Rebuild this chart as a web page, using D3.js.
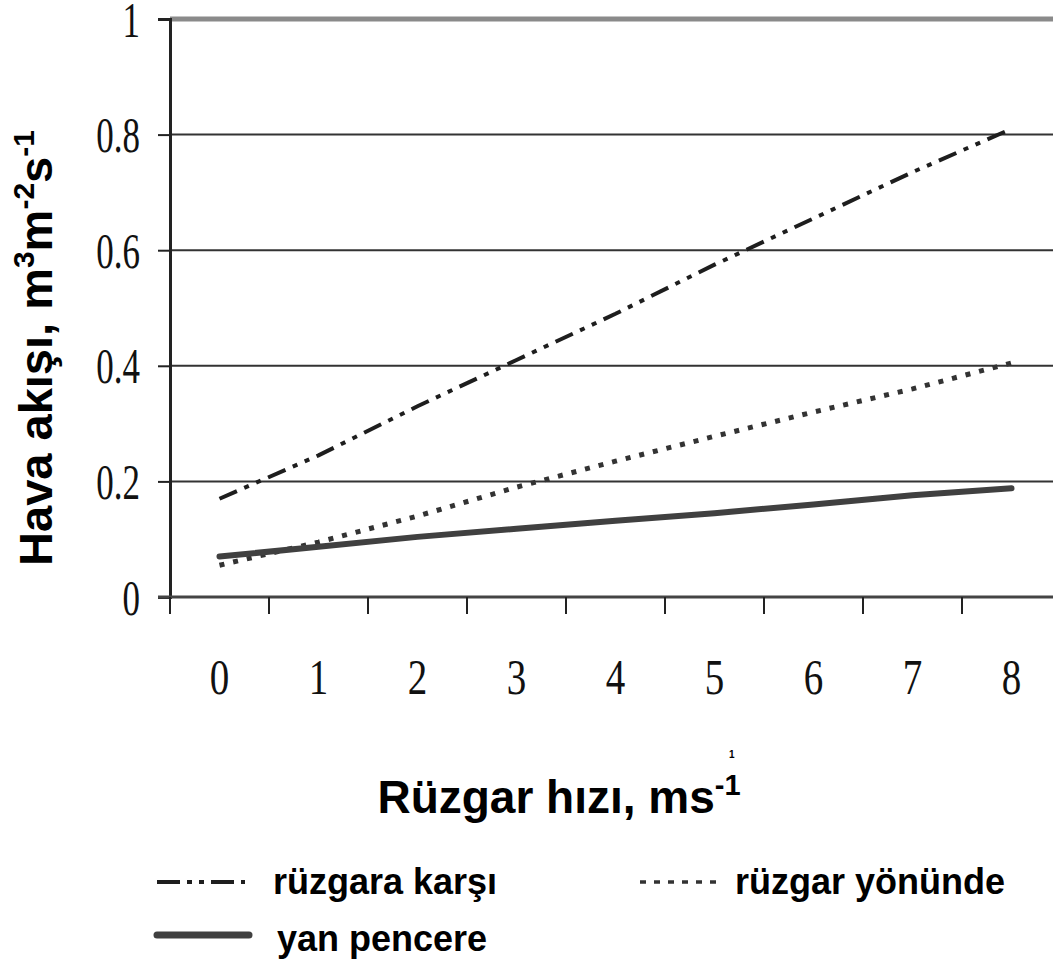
<!DOCTYPE html>
<html>
<head>
<meta charset="utf-8">
<script src="https://cdn.jsdelivr.net/npm/d3@7"></script>
<style>
  body { margin: 0; background: #fff; }
  .tick-lbl { font-family: "Liberation Serif", "Times New Roman", serif; fill: #111; }
  .title { font-family: "Liberation Sans", Arial, sans-serif; font-weight: bold; fill: #000; }
</style>
</head>
<body>
<div id="chart"></div>
<script>
// data
var speeds = [0, 1, 2, 3, 4, 5, 6, 7, 8];
var yTicks = [0, 0.2, 0.4, 0.6, 0.8, 1];
var ruzgaraKarsi = [0.17, 0.245, 0.33, 0.41, 0.49, 0.575, 0.655, 0.735, 0.81];
var ruzgarYonunde = [0.055, 0.095, 0.14, 0.19, 0.235, 0.278, 0.32, 0.36, 0.405];
var yanPencere = [0.07, 0.087, 0.104, 0.118, 0.132, 0.145, 0.16, 0.176, 0.188];
var seriesNames = ["rüzgara karşı", "rüzgar yönünde", "yan pencere"];

var W = 1053, H = 964;
var plotLeft = 170, plotTop = 19, plotBottom = 597, plotRight = 1061;

var x = d3.scaleBand().domain(speeds).range([plotLeft, plotRight]).padding(0);
var y = d3.scaleLinear().domain([0, 1]).range([plotBottom, plotTop]);

var svg = d3.select("#chart").append("svg")
  .attr("width", W)
  .attr("height", H);

// grid lines
svg.selectAll(".grid")
  .data(yTicks.filter(function(d) { return d > 0; }))
  .enter().append("line")
  .attr("x1", plotLeft).attr("x2", W)
  .attr("y1", function(d) { return y(d); })
  .attr("y2", function(d) { return y(d); })
  .attr("stroke", function(d) { return d === 1 ? "#8a8a8a" : "#333"; })
  .attr("stroke-width", function(d) { return d === 1 ? 5 : 2; });

// y axis
var yAxis = svg.append("g")
  .attr("transform", "translate(" + plotLeft + ",0)")
  .call(d3.axisLeft(y).tickValues(yTicks).tickSize(12)
    .tickFormat(function(d) { return d === 0 || d === 1 ? d : d.toFixed(1); }));
yAxis.select(".domain").attr("stroke", "#222").attr("stroke-width", 3);
yAxis.selectAll(".tick line").attr("stroke", "#222").attr("stroke-width", 2);
yAxis.selectAll(".tick text")
  .attr("class", "tick-lbl")
  .attr("font-size", 50)
  .attr("x", 0)
  .attr("text-anchor", "end")
  .attr("dy", "0.34em")
  .attr("transform", "translate(-30,0) scale(0.7,1)");

// x axis line
svg.append("line")
  .attr("x1", plotLeft - 12).attr("x2", W)
  .attr("y1", plotBottom).attr("y2", plotBottom)
  .attr("stroke", "#444").attr("stroke-width", 3);

// x ticks at band edges
svg.selectAll(".xtick")
  .data(speeds)
  .enter().append("line")
  .attr("x1", function(d) { return x(d); })
  .attr("x2", function(d) { return x(d); })
  .attr("y1", plotBottom).attr("y2", plotBottom + 17)
  .attr("stroke", "#222").attr("stroke-width", 2);

svg.selectAll(".xlbl")
  .data(speeds)
  .enter().append("text")
  .attr("class", "tick-lbl")
  .attr("font-size", 50)
  .attr("text-anchor", "middle")
  .attr("transform", function(d) {
    return "translate(" + (x(d) + x.bandwidth() / 2) + ",694) scale(0.78,1)";
  })
  .text(function(d) { return d; });

// series lines
var line = d3.line()
  .x(function(d, i) { return x(speeds[i]) + x.bandwidth() / 2; })
  .y(function(d) { return y(d); });

var styles = [
  { data: ruzgaraKarsi, color: "#1e1e1e", width: 4, dash: "19,8,5,8,5,8" },
  { data: ruzgarYonunde, color: "#333", width: 5, dash: "5,9" },
  { data: yanPencere, color: "#404040", width: 6, dash: null }
];

svg.selectAll(".series")
  .data(styles)
  .enter().append("path")
  .attr("d", function(s) { return line(s.data); })
  .attr("fill", "none")
  .attr("stroke", function(s) { return s.color; })
  .attr("stroke-width", function(s) { return s.width; })
  .attr("stroke-dasharray", function(s) { return s.dash; })
  .attr("stroke-linecap", function(s) { return s.dash ? "butt" : "round"; });

// axis titles
var yt = svg.append("text")
  .attr("class", "title")
  .attr("font-size", 47)
  .attr("text-anchor", "middle")
  .attr("transform", "translate(52,348) rotate(-90)");
yt.append("tspan").text("Hava akışı, m");
yt.append("tspan").attr("font-size", 30).attr("dy", -18).text("3");
yt.append("tspan").attr("dy", 18).text("m");
yt.append("tspan").attr("font-size", 30).attr("dy", -18).text("-2");
yt.append("tspan").attr("dy", 18).text("s");
yt.append("tspan").attr("font-size", 30).attr("dy", -18).text("-1");

var xt = svg.append("text")
  .attr("class", "title")
  .attr("font-size", 46)
  .attr("text-anchor", "middle")
  .attr("x", 559).attr("y", 813);
xt.append("tspan").text("Rüzgar hızı, ms");
xt.append("tspan").attr("font-size", 29).attr("dy", -18).text("-1");

// stray small mark above the title
svg.append("text")
  .attr("class", "title")
  .attr("font-size", 10)
  .attr("x", 729).attr("y", 758)
  .text("1");

// legend
var legend = [
  { x: 157, y: 882, tx: 273, ty: 894, s: styles[0], name: seriesNames[0], len: 88, w: 4, dash: "23,7,5,7,5,7" },
  { x: 640, y: 882, tx: 735, ty: 894, s: styles[1], name: seriesNames[1], len: 76, w: 3.5, dash: "6,8" },
  { x: 157, y: 935, tx: 277, ty: 951, s: styles[2], name: seriesNames[2], len: 92, w: 7, dash: null }
];

var lg = svg.selectAll(".legend")
  .data(legend)
  .enter().append("g");

lg.append("line")
  .attr("x1", function(d) { return d.x; })
  .attr("x2", function(d) { return d.x + d.len; })
  .attr("y1", function(d) { return d.y; })
  .attr("y2", function(d) { return d.y; })
  .attr("stroke", function(d) { return d.s.color; })
  .attr("stroke-width", function(d) { return d.w; })
  .attr("stroke-dasharray", function(d) { return d.dash; })
  .attr("stroke-linecap", function(d) { return d.dash ? "butt" : "round"; });

lg.append("text")
  .attr("class", "title")
  .attr("font-size", 36)
  .attr("x", function(d) { return d.tx; })
  .attr("y", function(d) { return d.ty; })
  .text(function(d) { return d.name; });
</script>
</body>
</html>
